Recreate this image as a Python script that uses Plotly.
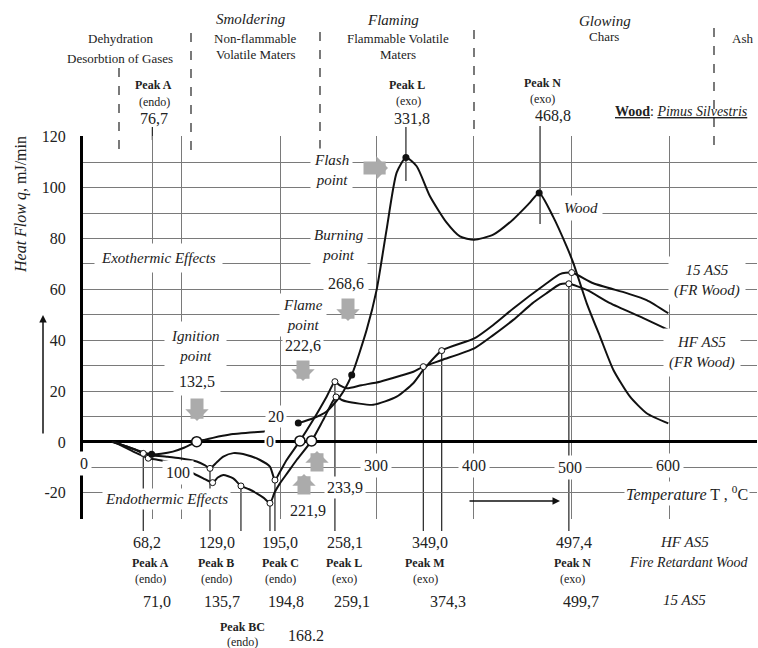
import plotly.graph_objects as go

SERIF = "Liberation Serif"
INK = "#222222"

# ---------------- data ----------------
# Wood (Pinus silvestris): endothermic part + ignition line
wood_low_T = [29.4, 40, 52, 62, 70.3, 80, 92, 104, 116.4, 125, 133, 143, 153.5, 162, 171, 179, 186.3]
wood_low_q = [0.1, -1.2, -2.8, -4.1, -4.8, -4.6, -3.8, -2.2, 0.1, 0.9, 1.6, 2.4, 3.1, 3.4, 3.7, 3.9, 4.1]
# Wood: exothermic part
wood_T = [220.4, 235.7, 249.4, 263.0, 275.1, 290.4, 300.6, 310.8, 321.1, 330.6, 341.6, 355.2, 372.3,
          385.9, 400.5, 420.0, 440.1, 457.5, 467.0, 481.1, 495.1, 502.0, 515.7, 529.3, 543.0, 560.0,
          577.0, 599.2]
wood_q = [7.4, 9.3, 12.0, 17.8, 26.3, 44.1, 59.8, 83.5, 105.9, 111.8, 108.4, 96.6, 86.2,
          80.8, 79.5, 81.5, 87.4, 94.1, 97.9, 88.7, 76.9, 70.3, 54.5, 41.4, 28.3, 17.8,
          11.3, 7.3]
# HF AS5 (FR wood)
hf_T = [31.0, 45, 55, 61.7, 72, 85.6, 99.3, 116.4, 125, 130.0, 137, 143.6, 153.8, 167.5, 181.2,
        191.4, 196.5, 202, 208.5, 222.1, 235.7, 249.4, 257.9, 263, 270.0, 285, 304.1, 325, 338.2,
        348.4, 367.2, 400.6, 420, 440.5, 460, 474.7, 488.3, 497.4, 515.7, 539.5, 573.6, 599.2]
hf_q = [0.1, -1.8, -3.3, -4.5, -5.3, -5.8, -6.4, -7.7, -9.2, -10.4, -8.0, -5.8, -4.4, -5.1, -7.1,
        -9.7, -15.0, -11.5, -7.1, 0.4, 8.7, 17.8, 23.7, 22.2, 21.1, 22.3, 23.7, 26.0, 27.6,
        29.6, 32.2, 36.8, 42.0, 48.0, 54.5, 58.5, 62.0, 62.2, 59.8, 54.6, 48.7, 44.1]
# 15 AS5 (FR wood)
a15_T = [31.0, 45, 57, 66.8, 76, 85.6, 96, 106.1, 115, 123.1, 132.7, 138, 143.6, 153.8, 161.7, 170,
         177.8, 185, 191.4, 196, 201.6, 210, 218.7, 234.0, 246.0, 259.0, 265, 270.0, 297.1, 321.1,
         338.1, 348.4, 367.2, 400.6, 420, 440.5, 474.7, 488.3, 500.3, 522.4, 556.6, 577.0, 599.2]
a15_q = [0.1, -2.5, -4.8, -6.4, -7.0, -7.7, -9.2, -11.0, -12.8, -14.3, -16.0, -14.0, -13.0, -14.3, -17.3, -18.6,
         -20.2, -22.0, -24.1, -20.0, -16.3, -11.8, -7.1, 0.4, 8.7, 17.7, 16.5, 15.9, 14.6, 17.8,
         23.1, 28.3, 35.9, 40.7, 46.0, 52.5, 62.4, 66.0, 66.6, 62.4, 58.5, 55.8, 50.6]

# characteristic points
wood_pk_T = [70.3, 220.4, 275.1, 330.6, 467.0]
wood_pk_q = [-4.8, 7.4, 26.3, 111.8, 97.9]
cross_T = [116.4, 222.1, 234.0]          # ignition / flame points (open circles on q = 0)
cross_q = [0.1, 0.4, 0.4]
hf_pk_T = [61.7, 130.0, 196.5, 257.9, 348.4, 497.4]
hf_pk_q = [-4.5, -10.4, -15.0, 23.7, 29.6, 62.2]
a15_pk_T = [66.8, 132.7, 161.7, 191.4, 259.0, 367.2, 500.3]
a15_pk_q = [-6.4, -16.0, -17.3, -24.1, 17.7, 35.9, 66.6]

grid_T = [71, 101, 202, 300, 400, 500, 600]
y_ticks = list(range(-30, 121, 10))
y_labels = [str(v) if v % 20 == 0 else "" for v in y_ticks]

# ---------------- geometry ----------------
W, H = 758, 648
SCR_L, SCR_T, PW, PH = 83, 136, 674, 383   # plot area on screen
ML = SCR_L
MT = SCR_T
MR = W - ML - PW
MB = H - MT - PH
SCR_B = SCR_T + PH
XR = (0, 690)
YR = (-30.3, 120.3)


def xp(px):
    return (px - SCR_L) / PW


def ypp(py):
    return (SCR_B - py) / PH


def dx(px):
    return XR[0] + xp(px) * (XR[1] - XR[0])


def yq(q):
    return (q - YR[0]) / (YR[1] - YR[0])


fig = go.Figure()
line_style = dict(color="#111111", width=2, shape="spline", smoothing=0.6)
for tx, qy in [(wood_low_T, wood_low_q), (wood_T, wood_q), (hf_T, hf_q), (a15_T, a15_q)]:
    fig.add_trace(go.Scatter(x=tx, y=qy, mode="lines", line=line_style, showlegend=False))
fig.add_trace(go.Scatter(x=hf_pk_T + a15_pk_T, y=hf_pk_q + a15_pk_q, mode="markers",
                         marker=dict(size=6, color="white", line=dict(color="#111", width=1)),
                         showlegend=False))
fig.add_trace(go.Scatter(x=wood_pk_T, y=wood_pk_q, mode="markers",
                         marker=dict(size=7, color="#111"), showlegend=False))
fig.add_trace(go.Scatter(x=cross_T, y=cross_q, mode="markers",
                         marker=dict(size=10, color="white", line=dict(color="#111", width=1.5)),
                         showlegend=False))

shapes = []
# drop lines from peaks to the labels below the chart
drop_T = [hf_pk_T[0], hf_pk_T[1], a15_pk_T[2], a15_pk_T[3], hf_pk_T[2], hf_pk_T[3], hf_pk_T[4],
          a15_pk_T[5], hf_pk_T[5]]
drop_q = [hf_pk_q[0], hf_pk_q[1], a15_pk_q[2], a15_pk_q[3], hf_pk_q[2], hf_pk_q[3], hf_pk_q[4],
          a15_pk_q[5], hf_pk_q[5]]
for t, q in zip(drop_T, drop_q):
    shapes.append(dict(type="line", xref="x", yref="paper", x0=t, x1=t, y0=yq(q), y1=ypp(531),
                       line=dict(color="#222", width=1.2), layer="below"))
# top peak ticks (Peak A, L, N of wood)
for t, top, bot in [(71, 127, 140), (330.6, 127, 181), (467.9, 126, 224)]:
    shapes.append(dict(type="line", xref="x", yref="paper", x0=t, x1=t, y0=ypp(top), y1=ypp(bot),
                       line=dict(color="#222", width=1.2), layer="below"))
# dashed phase boundaries
for px, top, bot in [(119, 68, 156), (191, 33, 156), (320, 32, 160), (474, 30, 137), (714, 28, 148)]:
    shapes.append(dict(type="line", xref="x", yref="paper", x0=dx(px), x1=dx(px), y0=ypp(top),
                       y1=ypp(bot), line=dict(color="#333", width=1.3, dash="dash")))

ann = []


def txt(s, px, py, size=15, anchor="center", bg="white", pad=2):
    d = dict(x=xp(px), y=ypp(py), xref="paper", yref="paper", text=s, showarrow=False,
             xanchor=anchor, yanchor="middle", borderpad=pad,
             font=dict(family=SERIF, size=size, color=INK))
    if bg:
        d["bgcolor"] = bg
    ann.append(d)


def arrow(px, py, ax, ay, color, width, size, head=1):
    ann.append(dict(x=xp(px), y=ypp(py), xref="paper", yref="paper", text="", showarrow=True,
                    ax=ax, ay=ay, arrowcolor=color, arrowwidth=width, arrowsize=size,
                    arrowhead=head))


# headings
txt("Dehydration", 120, 38, 13, bg=None)
txt("Desorbtion of Gases", 120, 58, 13, bg=None)
txt("<i>Smoldering</i>", 251, 19, 15, bg=None)
txt("Non-flammable", 255, 38, 13, bg=None)
txt("Volatile Maters", 256, 54, 13, bg=None)
txt("<i>Flaming</i>", 393, 20, 15, bg=None)
txt("Flammable Volatile", 398, 38, 13, bg=None)
txt("Maters", 398, 54, 13, bg=None)
txt("<i>Glowing</i>", 605, 21, 15, bg=None)
txt("Chars", 604, 37, 13, bg=None)
txt("Ash", 742, 38, 13, bg=None)
txt("<b>Peak A</b>", 153, 85, 12, bg=None)
txt("(endo)", 154, 102, 12, bg=None)
txt("76,7", 154, 118, 16, bg=None)
txt("<b>Peak L</b>", 407, 85, 12, bg=None)
txt("(exo)", 408, 101, 12, bg=None)
txt("331,8", 412, 119, 16, bg=None)
txt("<b>Peak N</b>", 542, 83, 12, bg=None)
txt("(exo)", 542, 99, 12, bg=None)
txt("468,8", 553, 116, 16, bg=None)
txt("<b><u>Wood</u></b>: <i><u>Pimus Silvestris</u></i>", 612, 112, 14, anchor="left", bg=None)

# axis title and arrows
ann.append(dict(x=xp(21), y=ypp(205), xref="paper", yref="paper", xanchor="center",
                yanchor="middle", text="<i>Heat Flow q,</i> mJ/min", textangle=-90,
                showarrow=False, font=dict(family=SERIF, size=16, color=INK)))
arrow(43, 315, 0, 120, "#111", 1.5, 1, head=2)
arrow(560, 501, -92, 0, "#111", 1.5, 1, head=2)
txt("<i>Temperature</i> T , <sup>0</sup>C", 624, 493, 16, anchor="left", pad=1)

# secondary temperature labels
for s, px, py in [("0", 84, 463), ("100", 178, 472), ("300", 376, 465), ("400", 474, 465),
                  ("500", 570, 467), ("600", 668, 465)]:
    txt(s, px, py, 16, pad=3)
txt("20", 276, 416, 16, pad=2)
txt("0", 270, 441, 16, pad=1)

# in-plot labels
txt("<i>Exothermic Effects</i>", 158, 258, 15, pad=6)
txt("<i>Endothermic Effects</i>", 166, 499, 15, pad=2)
txt("<i>Ignition<br>point</i>", 195, 346, 15, pad=6)
txt("132,5", 197, 381, 16, pad=5)
txt("<i>Flame<br>point</i>", 303, 315, 15, pad=3)
txt("222,6", 303, 345, 16, pad=2)
txt("<i>Burning<br>point</i>", 339, 245, 15, pad=3)
txt("268,6", 346, 283, 16, pad=4)
txt("<i>Flash<br>point</i>", 331, 170, 15, pad=3)
txt("233,9", 345, 487, 16, pad=2)
txt("221,9", 308, 510, 16, pad=2)
txt("<i>Wood</i>", 581, 208, 15, pad=4)
txt("<i>15 AS5<br>(FR Wood)</i>", 707, 280, 15, pad=5)
txt("<i>HF AS5<br>(FR Wood)</i>", 702, 352, 15, pad=5)

# gray arrows
GRAY = "#ababab"
arrow(197, 421, 0, -24, GRAY, 13, 0.3)
arrow(303, 381, 0, -22, GRAY, 13, 0.3)
arrow(348, 321, 0, -24, GRAY, 13, 0.3)
arrow(388, 168, -26, 0, GRAY, 13, 0.3)
arrow(317, 451, 0, 22, GRAY, 13, 0.3)
arrow(304, 474, 0, 22, GRAY, 13, 0.3)

# bottom labels
cols = [
    ("68,2", "Peak A", "(endo)", "71,0", 147, 150, 157),
    ("129,0", "Peak B", "(endo)", "135,7", 217, 216, 222),
    ("195,0", "Peak C", "(endo)", "194,8", 280, 280, 286),
    ("258,1", "Peak L", "(exo)", "259,1", 345, 344, 352),
    ("349,0", "Peak M", "(exo)", "374,3", 430, 425, 448),
    ("497,4", "Peak N", "(exo)", "499,7", 574, 572, 581),
]
for hfv, name, kind, v15, x1, x2, x3 in cols:
    txt(hfv, x1, 542, 16, bg=None)
    txt("<b>" + name + "</b>", x2, 563, 12, bg=None)
    txt(kind, x2, 579, 12, bg=None)
    txt(v15, x3, 601, 16, bg=None)
txt("<b>Peak BC</b>", 242, 627, 12, bg=None)
txt("(endo)", 242, 642, 12, bg=None)
txt("168.2", 306, 635, 16, bg=None)
txt("<i>HF AS5</i>", 684, 542, 15, bg=None)
txt("<i>Fire Retardant Wood</i>", 688, 562, 14, bg=None)
txt("<i>15 AS5</i>", 684, 600, 15, bg=None)

fig.update_layout(
    width=W, height=H, margin=dict(l=ML, r=MR, t=MT, b=MB),
    paper_bgcolor="white", plot_bgcolor="white",
    shapes=shapes, annotations=ann, showlegend=False,
    xaxis=dict(range=list(XR), tickvals=grid_T, showticklabels=False, showgrid=True,
               gridcolor="#7a7a7a", gridwidth=1.2, zeroline=False, showline=False, ticks=""),
    yaxis=dict(range=list(YR), tickvals=y_ticks, ticktext=y_labels, showgrid=True,
               gridcolor="#7a7a7a", gridwidth=1.2, zeroline=True, zerolinecolor="#000",
               zerolinewidth=3, showline=True, linecolor="#000", linewidth=3, ticks="",
               ticklabelstandoff=11, tickfont=dict(family=SERIF, size=16, color=INK)),
)

fig.write_html("out.html", config={"displayModeBar": False},
               post_script="document.body.style.margin='0';document.body.style.overflow='hidden';")
